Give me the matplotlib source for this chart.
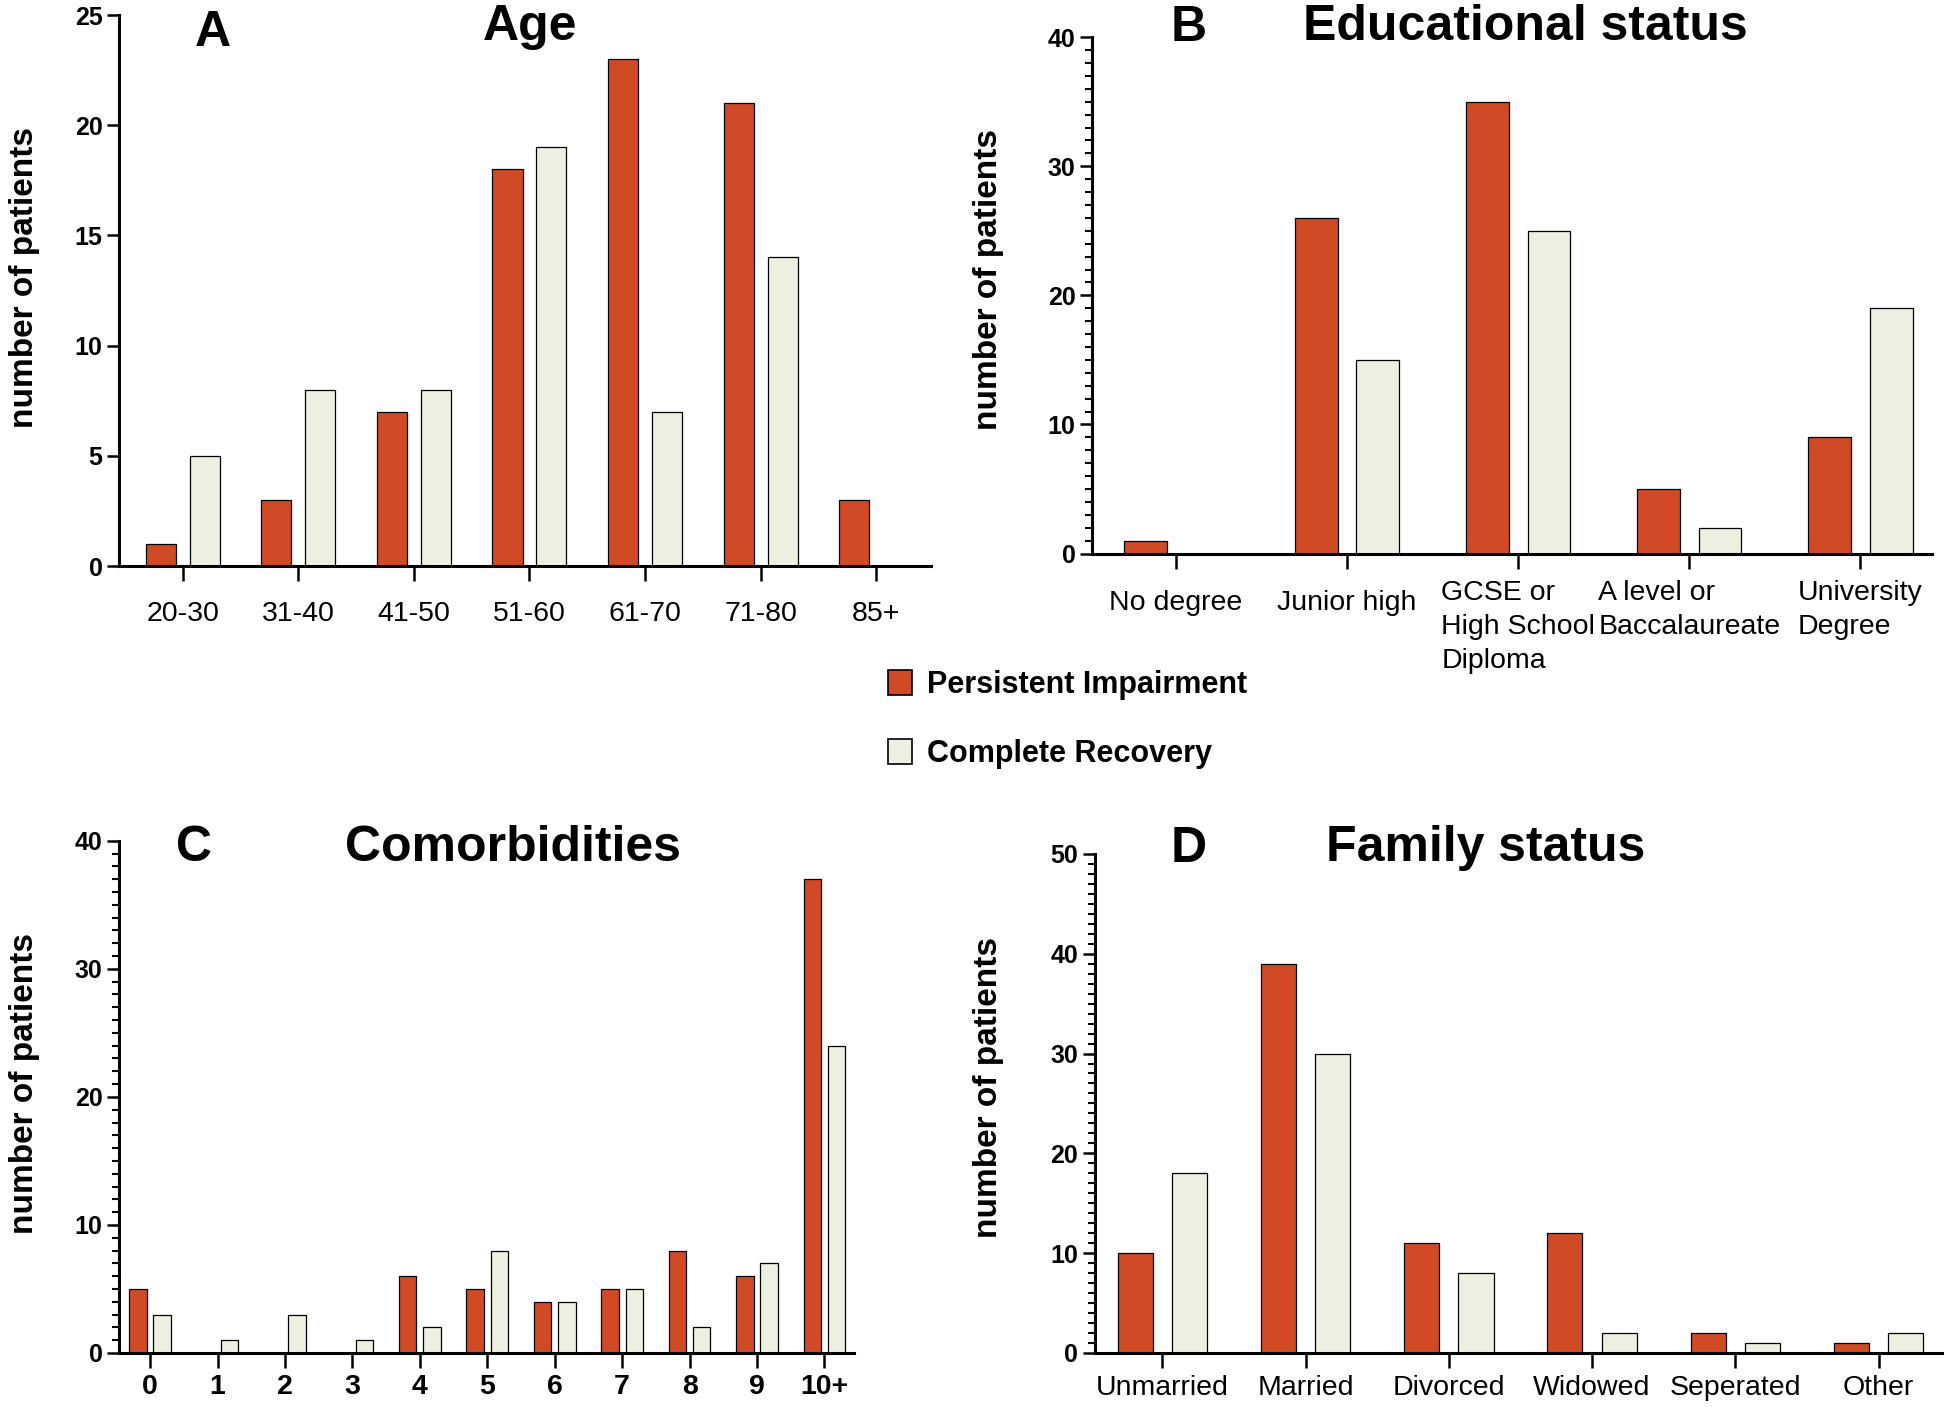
import matplotlib
matplotlib.use('Agg')
import matplotlib.pyplot as plt
from matplotlib.patches import Patch
from matplotlib.ticker import MultipleLocator

plt.rcParams['font.family'] = ['Liberation Sans', 'DejaVu Sans']

RED = '#D14A26'
LIGHT = '#EDF0E0'
W, H = 1946, 1407

# Panel A: age groups
age_labels = ['20-30', '31-40', '41-50', '51-60', '61-70', '71-80', '85+']
age_persistent = [1, 3, 7, 18, 23, 21, 3]
age_recovery = [5, 8, 8, 19, 7, 14, 0]

# Panel B: educational status
edu_labels = ['No degree', 'Junior high', 'GCSE or\nHigh School\nDiploma',
              'A level or\nBaccalaureate', 'University\nDegree']
edu_persistent = [1, 26, 35, 5, 9]
edu_recovery = [0, 15, 25, 2, 19]

# Panel C: number of comorbidities
como_labels = ['0', '1', '2', '3', '4', '5', '6', '7', '8', '9', '10+']
como_persistent = [5, 0, 0, 0, 6, 5, 4, 5, 8, 6, 37]
como_recovery = [3, 1, 3, 1, 2, 8, 4, 5, 2, 7, 24]

# Panel D: family status
family_labels = ['Unmarried', 'Married', 'Divorced', 'Widowed', 'Seperated', 'Other']
family_persistent = [10, 39, 11, 12, 2, 1]
family_recovery = [18, 30, 8, 2, 1, 2]


def fig_xy(px, py):
  """Pixel position (from top left) to figure fraction."""
  return px / W, 1 - py / H


def draw_panel(ax, labels, persistent, recovery, ymax, ystep, minor, xlim,
               offset=0.19, width=0.26, tick_weight='normal', tick_pad=8):
  xs = list(range(len(labels)))
  ax.bar([x - offset for x in xs], persistent, width, color=RED,
         edgecolor='black', linewidth=0.9)
  ax.bar([x + offset for x in xs], recovery, width, color=LIGHT,
         edgecolor='black', linewidth=0.9)
  ax.set_xlim(*xlim)
  ax.set_ylim(0, ymax)
  for side in ('top', 'right'):
    ax.spines[side].set_visible(False)
  for side in ('left', 'bottom'):
    ax.spines[side].set_linewidth(2.2)
  ax.set_xticks(xs)
  ax.set_xticklabels(labels, fontsize=20.5, fontweight=tick_weight,
                     linespacing=1.4)
  for lab in ax.get_xticklabels():
    lab.set_multialignment('left')
  ax.set_yticks(range(0, ymax + 1, ystep))
  ax.set_yticklabels([str(v) for v in range(0, ymax + 1, ystep)],
                     fontsize=18, fontweight='bold')
  if minor:
    ax.yaxis.set_minor_locator(MultipleLocator(minor))
  ax.tick_params(axis='x', length=11, width=1.8, pad=tick_pad)
  ax.tick_params(axis='y', which='major', length=9, width=1.8, pad=3)
  ax.tick_params(axis='y', which='minor', length=5, width=1.5)


fig = plt.figure(figsize=(W / 100, H / 100), dpi=100)

ax_a = fig.add_axes([0.0612, 0.5977, 0.417, 0.3916])
draw_panel(ax_a, age_labels, age_persistent, age_recovery, 25, 5, None,
           (-0.55, 6.47), tick_pad=14)

ax_b = fig.add_axes([0.5612, 0.6066, 0.4317, 0.367])
draw_panel(ax_b, edu_labels, edu_persistent, edu_recovery, 40, 10, 1,
           (-0.49, 4.42), offset=0.18, width=0.25, tick_pad=8)
# single-line labels sit a little lower than the stacked ones
for lab in ax_b.get_xticklabels()[:2]:
  lab.set_y(-0.02)

ax_c = fig.add_axes([0.0612, 0.0384, 0.3777, 0.364])
draw_panel(ax_c, como_labels, como_persistent, como_recovery, 40, 10, 1,
           (-0.46, 10.44), offset=0.18, width=0.26, tick_weight='bold',
           tick_pad=4)

ax_d = fig.add_axes([0.5627, 0.0384, 0.435, 0.3547])
draw_panel(ax_d, family_labels, family_persistent, family_recovery, 50, 10, 1,
           (-0.47, 5.44), offset=0.19, width=0.245, tick_pad=5)

# panel letters and titles
titles = [('A', 213, 33), ('Age', 530, 27),
          ('B', 1189, 28), ('Educational status', 1525, 27),
          ('C', 194, 848), ('Comorbidities', 513, 848),
          ('D', 1189, 849), ('Family status', 1486, 848)]
for text, px, py in titles:
  fig.text(*fig_xy(px, py), text, fontsize=36, fontweight='bold',
           ha='center', va='center')

# y axis labels
for px, py in [(25, 277), (989, 279), (25, 1083), (989, 1087)]:
  fig.text(*fig_xy(px, py), 'number of patients', fontsize=24,
           fontweight='bold', rotation=90, ha='center', va='center')

handles = [Patch(facecolor=RED, edgecolor='black', linewidth=1.2),
           Patch(facecolor=LIGHT, edgecolor='black', linewidth=1.2)]
fig.legend(handles, ['Persistent Impairment', 'Complete Recovery'],
           loc='upper left', bbox_to_anchor=fig_xy(860, 642), frameon=False,
           prop={'weight': 'bold', 'size': 22}, handlelength=0.8,
           handleheight=0.9, labelspacing=1.28, handletextpad=0.5)

fig.savefig('out.png', dpi=100)
